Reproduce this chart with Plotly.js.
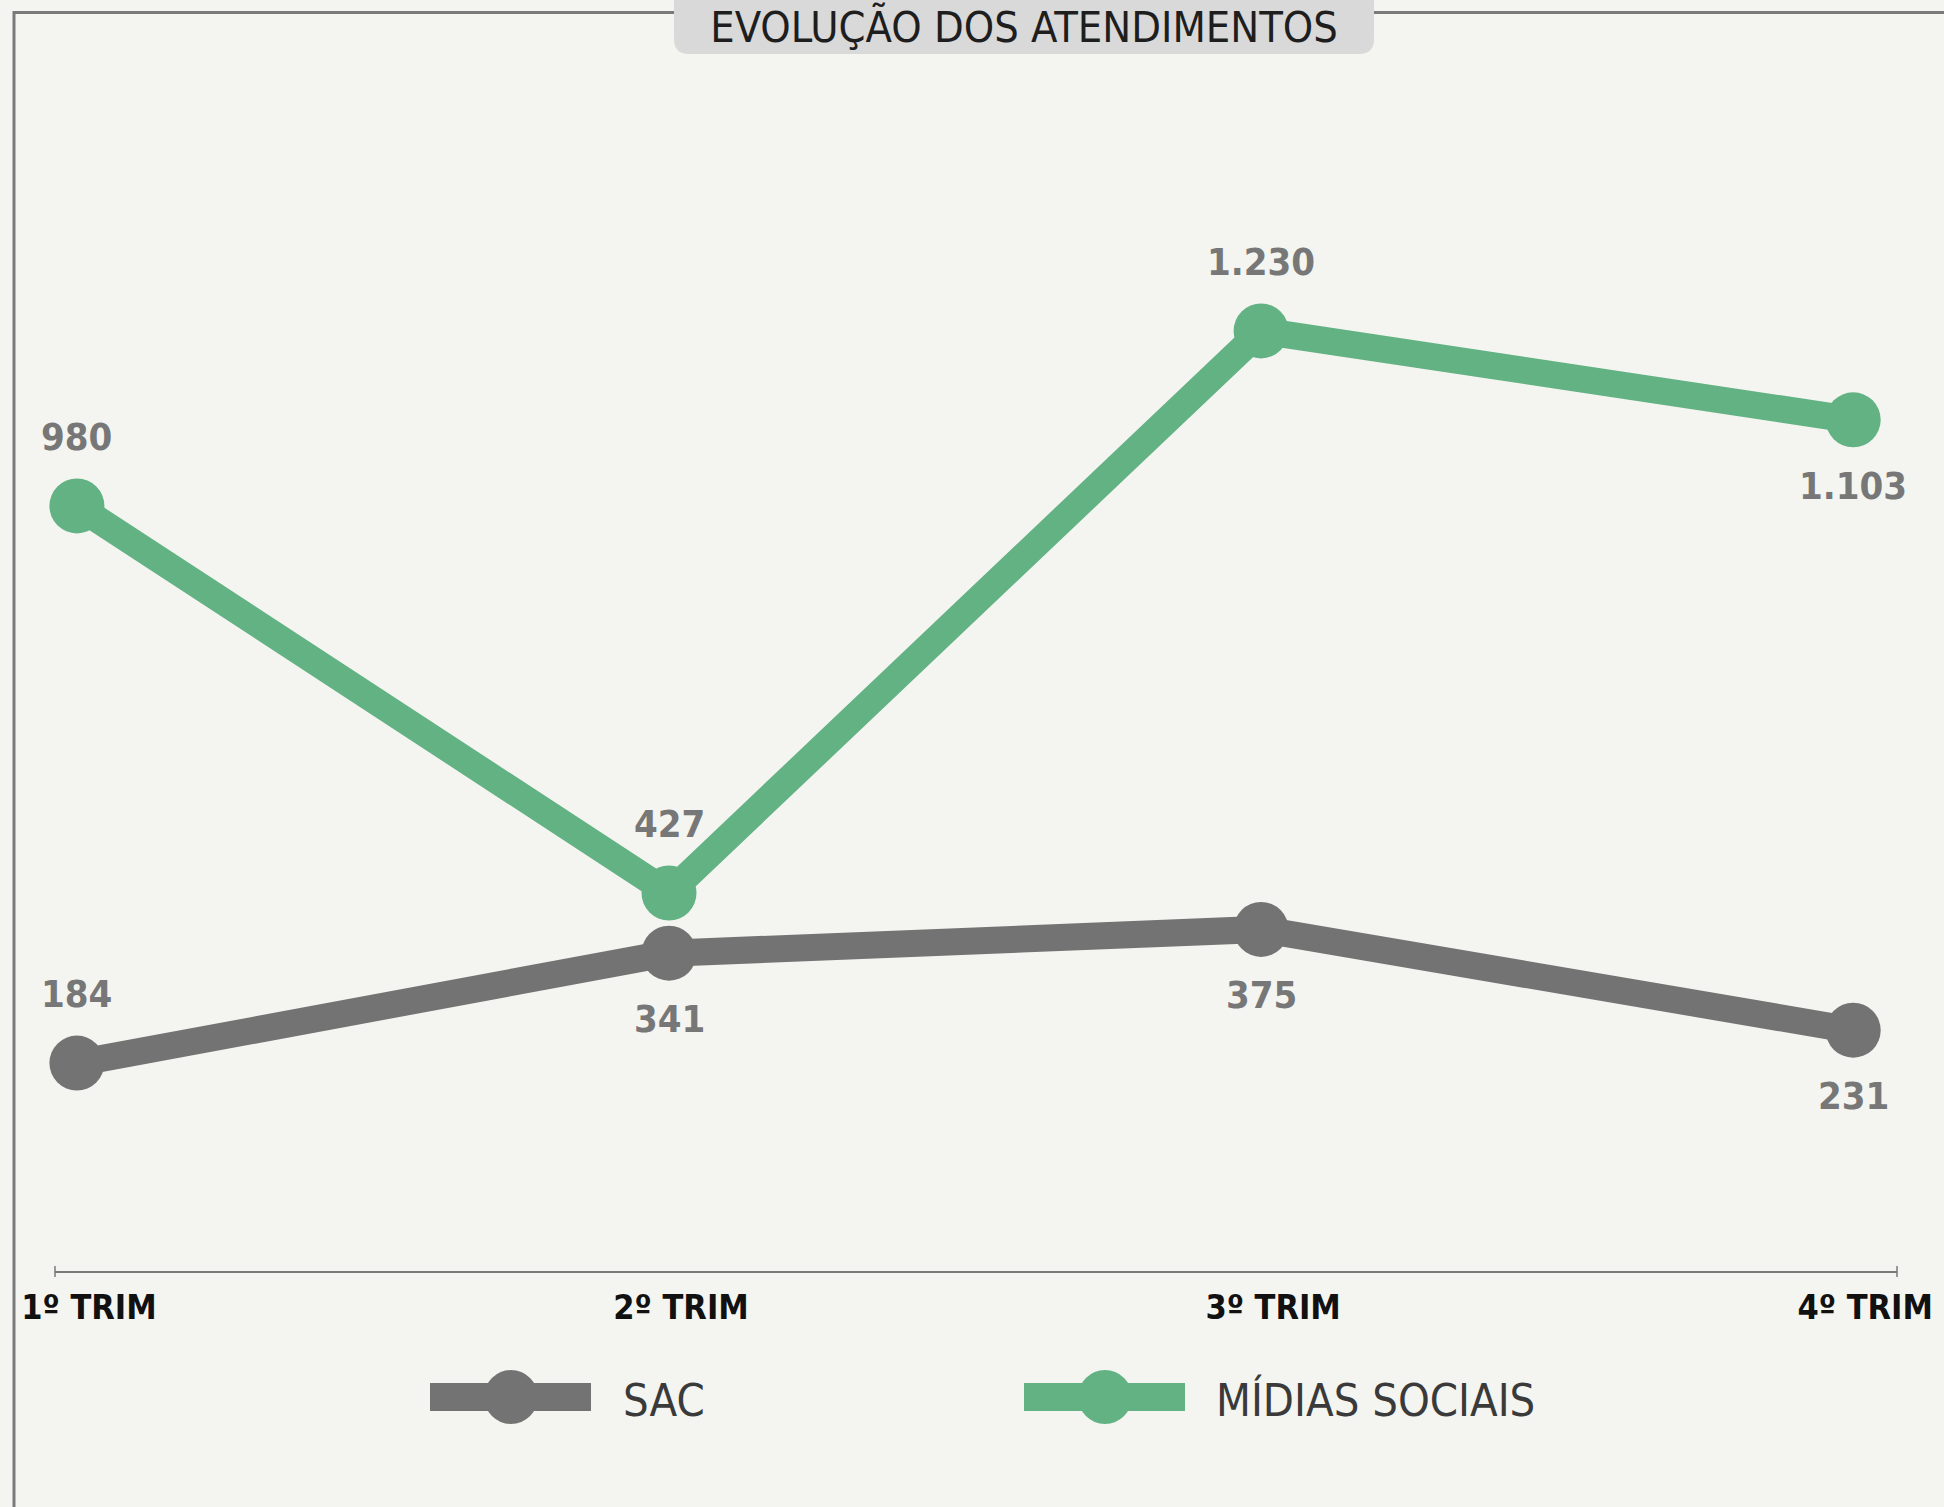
<!DOCTYPE html>
<html><head><meta charset="utf-8">
<script src="https://cdn.plot.ly/plotly-3.0.1.min.js"></script>
<style>html,body{margin:0;padding:0;background:#F4F5F0;overflow:hidden;}</style>
</head><body><div id="chart" style="width:1944px;height:1507px;"></div>
<script>
// ---- data ----
const categories = ['1º TRIM', '2º TRIM', '3º TRIM', '4º TRIM'];
const seriesNames = ['SAC', 'MÍDIAS SOCIAIS'];
const sacValues = [184, 341, 375, 231];
const midiasValues = [980, 427, 1230, 1103];
const sacLabels = ['184', '341', '375', '231'];
const midiasLabels = ['980', '427', '1.230', '1.103'];
const sacLabelSide = ['top', 'bottom', 'bottom', 'bottom'];
const midiasLabelSide = ['top', 'top', 'top', 'bottom'];
const chartTitle = 'EVOLUÇÃO DOS ATENDIMENTOS';

// ---- styles / layout geometry ----
const GRAY = '#737373', GREEN = '#62B283', LABEL = '#777777', BG = '#F4F5F0', FRAME = '#7a7a7a';
const NARROW = '"Liberation Sans Narrow", "DejaVu Sans Condensed", "Arial Narrow", Roboto, sans-serif';
const W = 1944, H = 1507, L = 55, R = 47, T = 60, B = 236;
const PW = W - L - R, PH = H - T - B;
const px = x => (x - L) / PW;
const py = y => (H - B - y) / PH;

function trace(name, vals, color) {
  return {
    type: 'scatter', mode: 'lines+markers', name: name,
    x: categories, y: vals,
    line: {color: color, width: 27},
    marker: {color: color, size: 55},
    showlegend: false, hoverinfo: 'skip', cliponaxis: false
  };
}

function labelAnnots(vals, labels, sides) {
  return vals.map((v, i) => ({
    x: categories[i], y: v, xref: 'x', yref: 'y', text: labels[i], showarrow: false,
    xanchor: 'center', yanchor: 'middle',
    yshift: sides[i] === 'top' ? 69 : -66,
    font: {family: NARROW, size: 38, color: LABEL, weight: 700}
  }));
}

function titleBoxPath() {
  const x0 = 674, x1 = 1374, yt = -20, yb = 54, r = 15;
  return 'M' + px(x0) + ',' + py(yt) +
    ' L' + px(x0) + ',' + py(yb - r) +
    ' Q' + px(x0) + ',' + py(yb) + ' ' + px(x0 + r) + ',' + py(yb) +
    ' L' + px(x1 - r) + ',' + py(yb) +
    ' Q' + px(x1) + ',' + py(yb) + ' ' + px(x1) + ',' + py(yb - r) +
    ' L' + px(x1) + ',' + py(yt) + ' Z';
}

function legendShapes(xLeft, color) {
  return [
    {type: 'rect', xref: 'paper', yref: 'paper', x0: px(xLeft), x1: px(xLeft + 161), y0: py(1411), y1: py(1383),
     fillcolor: color, line: {width: 0}},
    {type: 'circle', xref: 'paper', yref: 'paper', x0: px(xLeft + 54), x1: px(xLeft + 108), y0: py(1424), y1: py(1370),
     fillcolor: color, line: {width: 0}}
  ];
}

const shapes = [
  {type: 'line', xref: 'paper', yref: 'paper', x0: px(13), x1: px(W + 20), y0: py(12.5), y1: py(12.5),
   line: {color: FRAME, width: 3}},
  {type: 'line', xref: 'paper', yref: 'paper', x0: px(14), x1: px(14), y0: py(11), y1: py(H + 20),
   line: {color: FRAME, width: 3}},
  {type: 'path', xref: 'paper', yref: 'paper', path: titleBoxPath(), fillcolor: '#D9D9D9', line: {width: 0}},
  {type: 'line', xref: 'paper', yref: 'paper', x0: 0, x1: 0, y0: py(1266), y1: py(1277), line: {color: FRAME, width: 1.5}},
  {type: 'line', xref: 'paper', yref: 'paper', x0: 1, x1: 1, y0: py(1266), y1: py(1277), line: {color: FRAME, width: 1.5}}
].concat(legendShapes(430, GRAY), legendShapes(1024, GREEN));

const legendAnnots = [
  {xref: 'paper', yref: 'paper', x: px(621), y: py(1400), text: seriesNames[0], showarrow: false,
   xanchor: 'left', yanchor: 'middle', font: {family: NARROW, size: 45, color: '#3a3a3a'}},
  {xref: 'paper', yref: 'paper', x: px(1214), y: py(1400), text: seriesNames[1], showarrow: false,
   xanchor: 'left', yanchor: 'middle', font: {family: NARROW, size: 45, color: '#3a3a3a'}}
];

const data = [trace(seriesNames[0], sacValues, GRAY), trace(seriesNames[1], midiasValues, GREEN)];

const layout = {
  width: W, height: H,
  margin: {l: L, r: R, t: T, b: B, pad: 0},
  paper_bgcolor: BG, plot_bgcolor: BG,
  showlegend: false,
  title: {
    text: chartTitle, xref: 'container', yref: 'container',
    x: 1024 / W, xanchor: 'center', y: 1 - 42 / H, yanchor: 'bottom',
    font: {family: NARROW, size: 43, color: '#1e1e1e'}
  },
  xaxis: {
    type: 'category', range: [-0.037, 3.074],
    showline: true, linecolor: FRAME, linewidth: 2,
    showgrid: false, zeroline: false, ticks: '',
    tickfont: {family: NARROW, size: 34, color: '#111111', weight: 700},
    ticklabelshift: 12, ticklabelstandoff: 5, fixedrange: true
  },
  yaxis: {
    range: [-113, 1617], visible: false, showgrid: false, zeroline: false, fixedrange: true
  },
  shapes: shapes,
  annotations: labelAnnots(sacValues, sacLabels, sacLabelSide)
    .concat(labelAnnots(midiasValues, midiasLabels, midiasLabelSide))
    .concat(legendAnnots)
};

Plotly.newPlot('chart', data, layout, {displayModeBar: false, staticPlot: true});
</script>
</body></html>
